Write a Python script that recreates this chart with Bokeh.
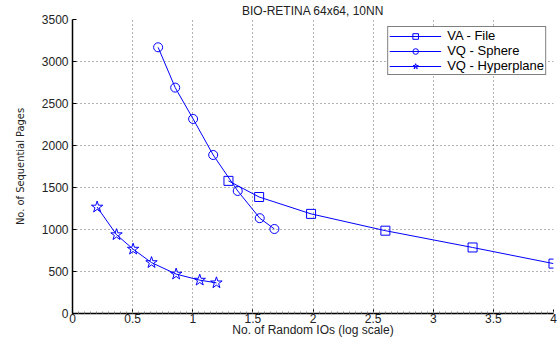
from bokeh.plotting import figure
from bokeh.models import Range1d, FixedTicker, Legend, LegendItem
from bokeh.embed import file_html
from bokeh.resources import INLINE

# data (x: No. of Random IOs, log scale; y: No. of Sequential Pages)
va_x = [1.297, 1.552, 1.984, 2.602, 3.327, 4.0]
va_y = [1579, 1387, 1186, 986, 786, 594]
sph_x = [0.712, 0.854, 1.003, 1.170, 1.374, 1.557, 1.679]
sph_y = [3169, 2689, 2316, 1887, 1459, 1135, 1006]
hyp_x = [0.205, 0.366, 0.504, 0.657, 0.862, 1.058, 1.197]
hyp_y = [1267, 938, 766, 606, 469, 397, 365]
x_ticks = [0, 0.5, 1, 1.5, 2, 2.5, 3, 3.5, 4]
y_ticks = [0, 500, 1000, 1500, 2000, 2500, 3000, 3500]

FONT = "Liberation Sans"
BLUE = "#0000ff"

p = figure(width=559, height=339, output_backend="svg", toolbar_location=None,
           x_range=Range1d(0, 4), y_range=Range1d(0, 3500),
           min_border_left=72, min_border_right=6, min_border_top=4, min_border_bottom=25,
           title="BIO-RETINA 64x64, 10NN")
p.outline_line_color = None
p.background_fill_color = "white"
p.border_fill_color = "white"

p.title.align = "center"
p.title.text_font = FONT
p.title.text_font_size = "12px"
p.title.text_font_style = "normal"
p.title.text_color = "#222222"
p.title.standoff = 3

p.xaxis.ticker = FixedTicker(ticks=x_ticks, minor_ticks=[i * 0.05 for i in range(81)])
p.yaxis.ticker = FixedTicker(ticks=y_ticks)
p.xaxis.axis_label = "No. of Random IOs (log scale)"
p.yaxis.axis_label = "No. of Sequential Pages"

for ax in (p.xaxis, p.yaxis):
    ax.axis_line_color = "black"
    ax.axis_line_width = 1.5
    ax.major_tick_in = 4
    ax.major_tick_out = 0
    ax.major_tick_line_color = "black"
    ax.major_label_text_font = FONT
    ax.major_label_text_font_size = "12px"
    ax.major_label_text_color = "#222222"
    ax.axis_label_text_font_style = "normal"
    ax.axis_label_text_color = "#222222"
p.xaxis.minor_tick_in = 2
p.xaxis.minor_tick_out = 0
p.xaxis.minor_tick_line_color = "#888888"
p.yaxis.minor_tick_line_color = None
p.xaxis.major_label_standoff = 0
p.xaxis.axis_label_standoff = -3
p.xaxis.axis_label_text_font = FONT
p.xaxis.axis_label_text_font_size = "12px"
p.yaxis.major_label_standoff = 4
p.yaxis.axis_label_standoff = 12
p.yaxis.axis_label_text_font = "DejaVu Sans Condensed, Liberation Sans"
p.yaxis.axis_label_text_font_size = "11px"

p.grid.grid_line_color = "#666666"
p.grid.grid_line_dash = "1 3"
p.grid.grid_line_width = 1

l1 = p.line(va_x, va_y, color=BLUE, line_width=1)
s1 = p.scatter(va_x, va_y, marker="square", size=9, line_color=BLUE, fill_color=None, line_width=1)
l2 = p.line(sph_x, sph_y, color=BLUE, line_width=1)
s2 = p.scatter(sph_x, sph_y, marker="circle", size=9, line_color=BLUE, fill_color=None, line_width=1)
l3 = p.line(hyp_x, hyp_y, color=BLUE, line_width=1)
s3 = p.scatter(hyp_x, hyp_y, marker="star", size=12, line_color=BLUE, fill_color=None, line_width=1)

legend = Legend(items=[
    LegendItem(label="VA - File", renderers=[l1, s1]),
    LegendItem(label="VQ - Sphere", renderers=[l2, s2]),
    LegendItem(label="VQ - Hyperplane", renderers=[l3, s3]),
], location="top_right")
legend.margin = 7
legend.padding = 1
legend.spacing = 0
legend.glyph_width = 52
legend.glyph_height = 14
legend.label_height = 12
legend.label_standoff = 6
legend.label_text_font = FONT
legend.label_text_font_size = "13px"
legend.label_text_color = "black"
legend.border_line_color = "black"
legend.border_line_width = 1.5
legend.background_fill_alpha = 1
p.add_layout(legend)

open("out.html", "w").write(file_html(p, INLINE))
